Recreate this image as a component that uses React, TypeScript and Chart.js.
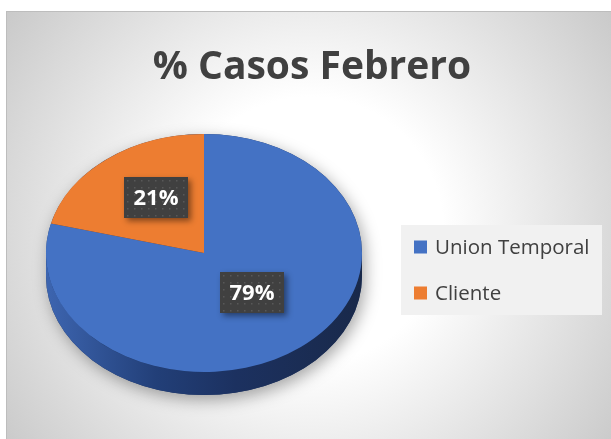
import React, { useEffect, useRef } from 'react';
import { Chart, registerables } from 'chart.js';

Chart.register(...registerables);

const TITLE = '% Casos Febrero';
const CATEGORIES = ['Union Temporal', 'Cliente'];
const VALUES = [79, 21];
const COLORS = ['#4472C4', '#ED7D31'];
const SIDE_STOPS = [
  ['#3d65b0', '#223f78', '#1c3160', '#19294a'],
  ['#c0621f', '#8a4516', '#773b12', '#5f2f0e'],
];

const TILT = 0.753;
const DEPTH = 23;
const FONT = '"Open Sans", Lato, "DejaVu Sans", sans-serif';

const pie3d = {
  id: 'pie3d',
  beforeDraw(chart: any) {
    const { ctx, width, height } = chart;
    ctx.save();
    ctx.fillStyle = '#ffffff';
    ctx.fillRect(0, 0, width, height);
    const x0 = 7;
    const y0 = 12;
    const g = ctx.createRadialGradient(310, 230, 0, 310, 230, 380);
    g.addColorStop(0, '#ffffff');
    g.addColorStop(0.35, '#ffffff');
    g.addColorStop(1, '#c8c8c8');
    ctx.fillStyle = g;
    ctx.fillRect(x0, y0, width - x0, height - y0);
    ctx.strokeStyle = '#bdbdbd';
    ctx.lineWidth = 1;
    ctx.strokeRect(x0 - 0.5, y0 - 0.5, width, height);

    // title
    ctx.fillStyle = '#404040';
    ctx.font = `bold 39px ${FONT}`;
    ctx.textAlign = 'center';
    ctx.textBaseline = 'alphabetic';
    ctx.fillText(TITLE, 312, 79);

    // legend
    ctx.fillStyle = '#f1f1f1';
    ctx.fillRect(401, 225, 201, 90);
    CATEGORIES.forEach((c, i) => {
      const y = 247 + i * 46;
      ctx.fillStyle = COLORS[i];
      ctx.fillRect(414, y - 6.5, 13, 13);
      ctx.fillStyle = '#404040';
      ctx.font = `20.5px ${FONT}`;
      ctx.textAlign = 'left';
      ctx.textBaseline = 'middle';
      ctx.fillText(c, 435, y + 1);
    });
    ctx.restore();
  },
  beforeDatasetsDraw(chart: any) {
    const { ctx } = chart;
    const arcs = chart.getDatasetMeta(0).data;
    if (!arcs.length) return;
    const { x: cx, y: cy, outerRadius: R } = arcs[0].getProps(['x', 'y', 'outerRadius']);
    const ry = R * TILT;

    // silhouette with shadow
    ctx.save();
    ctx.beginPath();
    ctx.ellipse(cx, cy, R, ry, 0, Math.PI, 0);
    ctx.lineTo(cx + R, cy + DEPTH);
    ctx.ellipse(cx, cy + DEPTH, R, ry, 0, 0, Math.PI);
    ctx.closePath();
    ctx.shadowColor = 'rgba(0,0,0,0.35)';
    ctx.shadowBlur = 16;
    ctx.shadowOffsetX = 3;
    ctx.shadowOffsetY = 5;
    ctx.fillStyle = '#1d3462';
    ctx.fill();
    ctx.restore();

    // extruded sides
    arcs.forEach((arc: any, i: number) => {
      const { startAngle, endAngle } = arc.getProps(['startAngle', 'endAngle']);
      for (const shift of [-2 * Math.PI, 0, 2 * Math.PI]) {
        const a0 = Math.max(startAngle + shift, 0);
        const a1 = Math.min(endAngle + shift, Math.PI);
        if (a1 > a0) {
          ctx.save();
          ctx.beginPath();
          ctx.ellipse(cx, cy, R, ry, 0, a0, a1);
          ctx.ellipse(cx, cy + DEPTH, R, ry, 0, a1, a0, true);
          ctx.closePath();
          const lg = ctx.createLinearGradient(cx - R, 0, cx + R, 0);
          const st = SIDE_STOPS[i % SIDE_STOPS.length];
          lg.addColorStop(0, st[0]);
          lg.addColorStop(0.35, st[1]);
          lg.addColorStop(0.6, st[2]);
          lg.addColorStop(1, st[3]);
          ctx.fillStyle = lg;
          ctx.fill();
          ctx.restore();
        }
      }
    });

    ctx.save();
    ctx.translate(cx, cy);
    ctx.scale(1, TILT);
    ctx.translate(-cx, -cy);
  },
  afterDatasetsDraw(chart: any) {
    const { ctx } = chart;
    const arcs = chart.getDatasetMeta(0).data;
    if (!arcs.length) return;
    ctx.restore();
    const cy = arcs[0].y;
    const bw = 64;
    const bh = 41;
    arcs.forEach((arc: any, i: number) => {
      const p = arc.tooltipPosition(false);
      const x = p.x;
      const y = cy + (p.y - cy) * TILT - 8;
      const left = Math.round(x - bw / 2);
      const top = Math.round(y - bh / 2);
      ctx.save();
      ctx.shadowColor = 'rgba(0,0,0,0.45)';
      ctx.shadowBlur = 6;
      ctx.shadowOffsetX = 3;
      ctx.shadowOffsetY = 3;
      ctx.fillStyle = '#404040';
      ctx.fillRect(left, top, bw, bh);
      ctx.restore();
      ctx.save();
      ctx.fillStyle = 'rgba(255,255,255,0.13)';
      for (let dx = 3; dx < bw; dx += 7) {
        for (let dy = 3; dy < bh; dy += 7) {
          ctx.fillRect(left + dx, top + dy, 1.5, 1.5);
        }
      }
      ctx.fillStyle = '#ffffff';
      ctx.font = `bold 22px ${FONT}`;
      ctx.textAlign = 'center';
      ctx.textBaseline = 'middle';
      ctx.fillText(`${VALUES[i]}%`, left + bw / 2, top + bh / 2 + 1);
      ctx.restore();
    });
  },
};

export default function App() {
  const ref = useRef<HTMLCanvasElement | null>(null);
  useEffect(() => {
    document.body.style.margin = '0';
    const canvas = ref.current;
    if (!canvas) return;
    const chart = new Chart(canvas, {
      type: 'pie',
      data: {
        labels: CATEGORIES,
        datasets: [
          {
            data: VALUES,
            backgroundColor: COLORS,
            borderWidth: 0,
          },
        ],
      },
      options: {
        responsive: false,
        animation: false,
        events: [],
        layout: { padding: { left: 46, right: 249, top: 95, bottom: 28 } },
        plugins: {
          legend: { display: false },
          title: { display: false },
          tooltip: { enabled: false },
        },
      },
      plugins: [pie3d],
    });
    return () => chart.destroy();
  }, []);
  return (
    <div style={{ position: 'fixed', left: 0, top: 0, width: 611, height: 439 }}>
      <canvas ref={ref} width={611} height={439} style={{ display: 'block' }} />
    </div>
  );
}
